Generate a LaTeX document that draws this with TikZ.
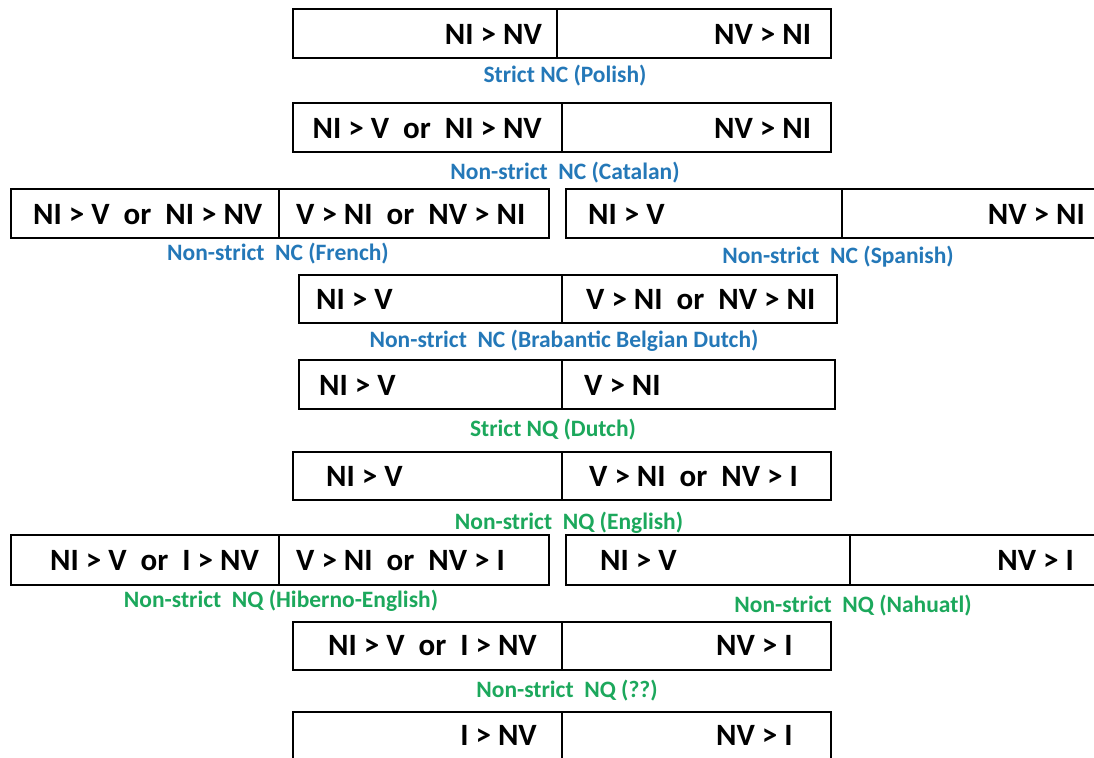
\documentclass[tikz,border=0pt]{standalone}
\usepackage{fontspec}
\setmainfont{Carlito}
\definecolor{ncblue}{RGB}{36,120,184}
\definecolor{nqgreen}{RGB}{28,168,92}
\tikzset{
  cell/.style={draw=black, line width=1.2pt},
  bt/.style={inner sep=0pt, font=\fontsize{31}{34}\selectfont\bfseries},
  lab/.style={inner sep=0pt, font=\fontsize{23.5}{26}\selectfont\bfseries, anchor=base},
  nc/.style={lab, text=ncblue},
  nq/.style={lab, text=nqgreen}
}
\newcommand{\orsp}{\ \ or\ \ }
\begin{document}
\begin{tikzpicture}[x=1pt,y=-1pt]
\useasboundingbox (0,0) rectangle (1094,757);
\fill[white] (0,0) rectangle (1094,757);
% Row 1
\draw[cell] (293,9) rectangle (557,58);
\draw[cell] (557,9) rectangle (831,58);
\node[bt, anchor=base east] (t1a) at (542,45) {NI > NV};
\node[bt, anchor=base west] (t1b) at (714,45) {NV > NI};
\node[nc] (l1) at (565,83) {Strict NC (Polish)};
% Row 2
\draw[cell] (293,103) rectangle (562,152);
\draw[cell] (562,103) rectangle (831,152);
\node[bt, anchor=base east] (t2a) at (542,139) {NI > V\orsp NI > NV};
\node[bt, anchor=base west] (t2b) at (714,139) {NV > NI};
\node[nc] (l2) at (565,179) {Non-strict\ \ NC (Catalan)};
% Row 3 left
\draw[cell] (11,189) rectangle (279,238);
\draw[cell] (279,189) rectangle (549,238);
\node[bt, anchor=base west] (t3a) at (33,224) {NI > V\orsp NI > NV};
\node[bt, anchor=base west] (t3b) at (296,224) {V > NI\orsp NV > NI};
\node[nc] (l3) at (278,260) {Non-strict\ \ NC (French)};
% Row 3 right
\draw[cell] (566,189) rectangle (842,238);
\draw[cell] (842,189) rectangle (1100,238);
\node[bt, anchor=base west] (t3c) at (588,224) {NI > V};
\node[bt, anchor=base east] (t3d) at (1085,224) {NV > NI};
\node[nc] (l4) at (838,263) {Non-strict\ \ NC (Spanish)};
% Row 4
\draw[cell] (299,275) rectangle (562,323);
\draw[cell] (562,275) rectangle (837,323);
\node[bt, anchor=base west] (t4a) at (316,309.5) {NI > V};
\node[bt, anchor=base west] (t4b) at (586,309.5) {V > NI\orsp NV > NI};
\node[nc] (l5) at (564,347) {Non-strict\ \ NC (Brabantic Belgian Dutch)};
% Row 5
\draw[cell] (299,360) rectangle (562,409);
\draw[cell] (562,360) rectangle (835,409);
\node[bt, anchor=base west] (t5a) at (319,395) {NI > V};
\node[bt, anchor=base west] (t5b) at (584,395) {V > NI};
\node[nq] (l6) at (553,436) {Strict NQ (Dutch)};
% Row 6
\draw[cell] (293,452) rectangle (562,500);
\draw[cell] (562,452) rectangle (831,500);
\node[bt, anchor=base west] (t6a) at (326,486.5) {NI > V};
\node[bt, anchor=base west] (t6b) at (589,486.5) {V > NI\orsp NV > I};
\node[nq] (l7) at (569,529) {Non-strict\ \ NQ (English)};
% Row 7 left
\draw[cell] (11,535) rectangle (279,585);
\draw[cell] (279,535) rectangle (549,585);
\node[bt, anchor=base west] (t7a) at (50,570.5) {NI > V\orsp I > NV};
\node[bt, anchor=base west] (t7b) at (296,570.5) {V > NI\orsp NV > I};
\node[nq] (l8) at (281,607) {Non-strict\ \ NQ (Hiberno-English)};
% Row 7 right
\draw[cell] (566,535) rectangle (850,585);
\draw[cell] (850,535) rectangle (1100,585);
\node[bt, anchor=base west] (t7c) at (600,570.5) {NI > V};
\node[bt, anchor=base east] (t7d) at (1074,570.5) {NV > I};
\node[nq] (l9) at (853,612) {Non-strict\ \ NQ (Nahuatl)};
% Row 8
\draw[cell] (293,622) rectangle (562,670);
\draw[cell] (562,622) rectangle (831,670);
\node[bt, anchor=base east] (t8a) at (537,655.5) {NI > V\orsp I > NV};
\node[bt, anchor=base west] (t8b) at (716,655.5) {NV > I};
\node[nq] (l10) at (567,697) {Non-strict\ \ NQ (??)};
% Row 9
\draw[cell] (293,712) rectangle (562,770);
\draw[cell] (562,712) rectangle (831,770);
\node[bt, anchor=base east] (t9a) at (537,745.5) {I > NV};
\node[bt, anchor=base west] (t9b) at (716,745.5) {NV > I};
\end{tikzpicture}
\end{document}
